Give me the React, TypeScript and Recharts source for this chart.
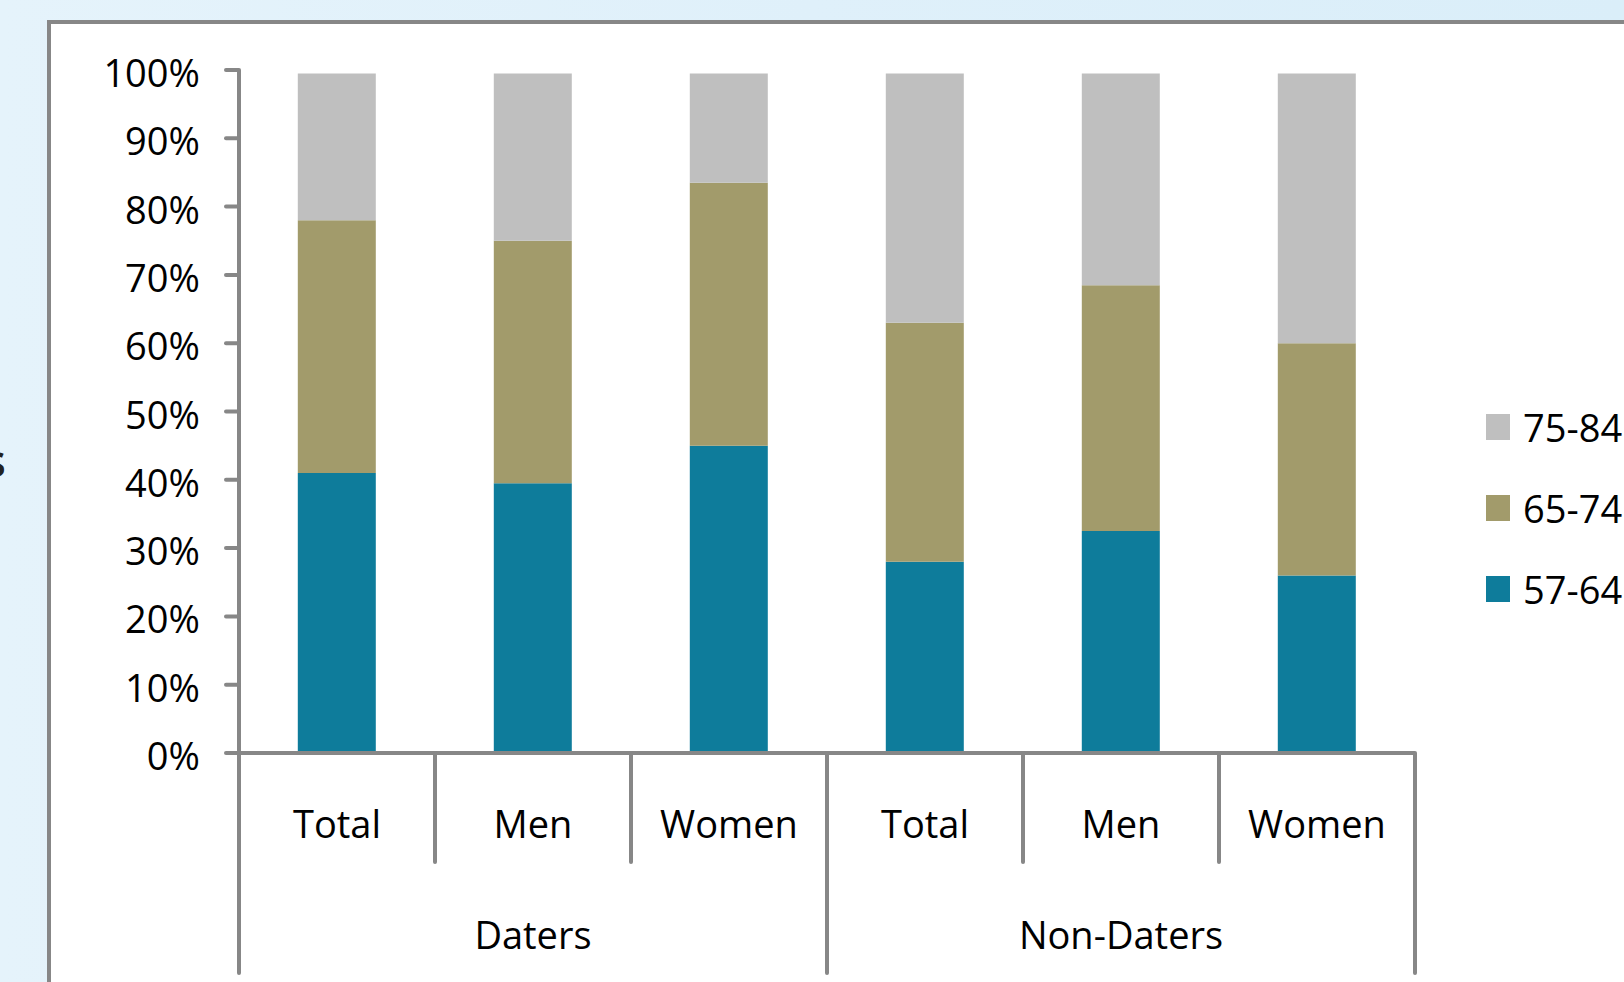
import React from "react";
import { BarChart, Bar, XAxis, YAxis } from "recharts";

const categories = ["Total", "Men", "Women", "Total", "Men", "Women"];
const groups = ["Daters", "Daters", "Daters", "Non-Daters", "Non-Daters", "Non-Daters"];
const age57to64 = [41, 39.5, 45, 28, 32.5, 26];
const age65to74 = [37, 35.5, 38.5, 35, 36, 34];
const age75to84 = [21.5, 24.5, 16, 36.5, 31, 39.5];
const yTicks = [0, 10, 20, 30, 40, 50, 60, 70, 80, 90, 100];

const series = [
  { key: "a57", name: "57-64", color: "#0e7c9b" },
  { key: "a65", name: "65-74", color: "#a29b6b" },
  { key: "a75", name: "75-84", color: "#bfbfbf" },
];

const data = categories.map((c, i) => ({
  name: `${groups[i]} ${c}`,
  label: c,
  group: groups[i],
  a57: age57to64[i],
  a65: age65to74[i],
  a75: age75to84[i],
}));

const W = 1624;
const H = 982;
const PLOT_LEFT = 239;
const PLOT_RIGHT = 1415;
const PLOT_TOP = 70;
const PLOT_BOTTOM = 753;
const BAND = (PLOT_RIGHT - PLOT_LEFT) / categories.length;
const AXIS = "#878787";
const FONT = "'Open Sans', 'Noto Sans', sans-serif";

const line = (x1: number, y1: number, x2: number, y2: number, k: string) => (
  <line key={k} x1={x1} y1={y1} x2={x2} y2={y2} stroke={AXIS} strokeWidth={4} strokeLinecap="round" />
);

const CategoryTick = (props: any) => {
  const { x, index } = props;
  const half = BAND / 2;
  const row = data[index];
  const groupEnd = index === 2 || index === 5;
  return (
    <g>
      {index === 0 && line(x - half, PLOT_BOTTOM, x - half, 973, "start")}
      {line(x + half, PLOT_BOTTOM, x + half, groupEnd ? 973 : 862, "div")}
      <text x={x} y={838} textAnchor="middle" fontSize={38} fill="#000" fontFamily={FONT}>
        {row.label}
      </text>
      {(index === 1 || index === 4) && (
        <text x={x} y={949} textAnchor="middle" fontSize={38} fill="#000" fontFamily={FONT}>
          {row.group}
        </text>
      )}
    </g>
  );
};

const PercentTick = (props: any) => {
  const { x, y, payload } = props;
  return (
    <text x={x} y={y + 17} textAnchor="end" fontSize={38} fill="#000" fontFamily={FONT}>
      {payload.value}%
    </text>
  );
};

const LegendBox = () => (
  <div style={{ position: "absolute", left: 1486, top: 386, fontFamily: FONT, fontSize: 38, color: "#000" }}>
    {[...series].reverse().map((s) => (
      <div key={s.key} style={{ display: "flex", alignItems: "center", height: 81, whiteSpace: "nowrap" }}>
        <span style={{ width: 24, height: 26, background: s.color, marginRight: 13, display: "inline-block" }} />
        <span>{s.name}</span>
      </div>
    ))}
  </div>
);

export default function App() {
  return (
    <div
      style={{
        position: "absolute",
        left: 0,
        top: 0,
        width: W,
        height: H,
        overflow: "hidden",
        background: "linear-gradient(90deg, #e5f3fb 0%, #dff0fa 50%, #daeef9 100%)",
      }}
    >
      <div
        style={{
          position: "absolute",
          left: 47,
          top: 20,
          width: 1700,
          height: 1100,
          background: "#fff",
          border: `4px solid ${AXIS}`,
        }}
      />
      <div
        style={{
          position: "absolute",
          right: W - 6,
          top: 428,
          fontFamily: FONT,
          fontSize: 46,
          fontWeight: 600,
          color: "#222",
        }}
      >
        s
      </div>
      <div style={{ position: "absolute", left: 0, top: 0 }}>
        <BarChart
          width={W}
          height={H}
          data={data}
          margin={{ top: PLOT_TOP, right: W - PLOT_RIGHT, bottom: 0, left: 0 }}
          barCategoryGap="30%"
        >
          <XAxis
            dataKey="name"
            height={H - PLOT_BOTTOM}
            interval={0}
            tickLine={false}
            axisLine={{ stroke: AXIS, strokeWidth: 4 }}
            tick={<CategoryTick />}
          />
          <YAxis
            width={PLOT_LEFT}
            domain={[0, 100]}
            ticks={yTicks}
            interval={0}
            tickSize={13}
            tickMargin={26}
            axisLine={{ stroke: AXIS, strokeWidth: 4 }}
            tickLine={{ stroke: AXIS, strokeWidth: 4, strokeLinecap: "round" }}
            tick={<PercentTick />}
          />
          {series.map((s) => (
            <Bar key={s.key} dataKey={s.key} name={s.name} stackId="age" fill={s.color} isAnimationActive={false} />
          ))}
        </BarChart>
      </div>
      <LegendBox />
    </div>
  );
}
